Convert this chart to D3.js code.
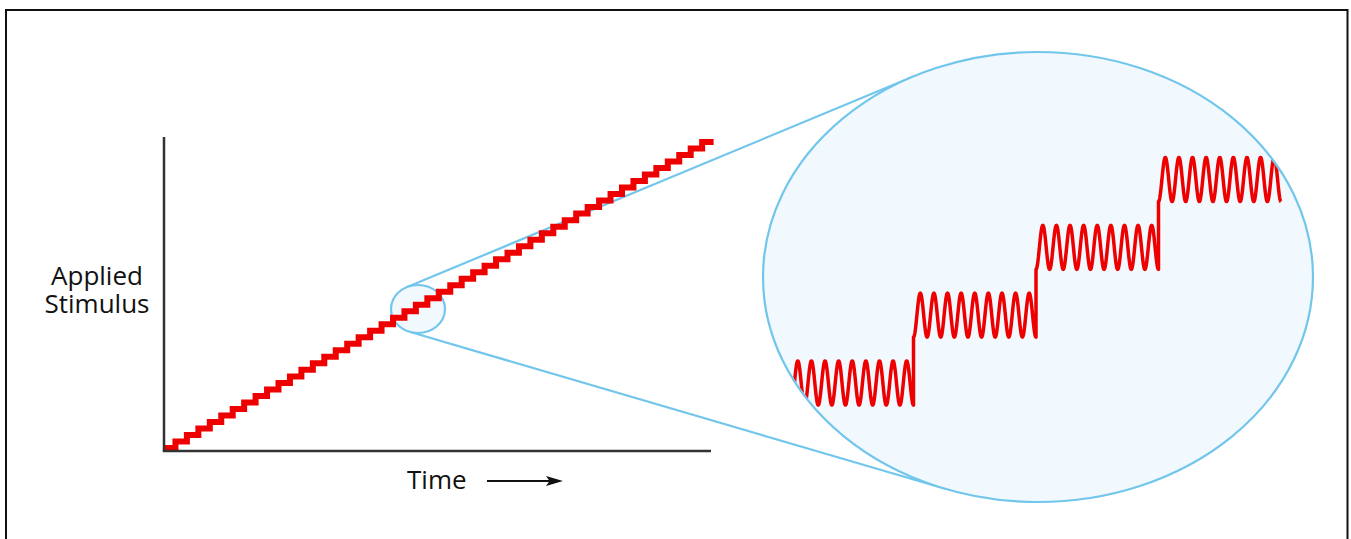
<!DOCTYPE html>
<html>
<head>
<meta charset="utf-8">
<script src="https://cdn.jsdelivr.net/npm/d3@7/dist/d3.min.js"></script>
<style>
  html, body { margin: 0; padding: 0; background: #ffffff; }
  svg { display: block; }
  text { font-family: "Open Sans", "Noto Sans", sans-serif; fill: #111; font-weight: 500; }
</style>
</head>
<body>
<svg id="chart" width="1351" height="539"></svg>
<script>
// ---------------- DATA ----------------
// Staircase: stimulus level held for each time step (index = time step)
const stimulusLevels = [1, 2, 3, 4, 5, 6, 7, 8, 9, 10, 11, 12, 13, 14, 15, 16,
  17, 18, 19, 20, 21, 22, 23, 24, 25, 26, 27, 28, 29, 30, 31, 32,
  33, 34, 35, 36, 37, 38, 39, 40, 41, 42, 43, 44, 45, 46, 47, 48];
// Zoomed view: four consecutive levels, each with an oscillation on top
const zoomLevels = [1, 2, 3, 4];
const cyclesPerLevel = 9;
const oscillationAmplitude = 0.325; // in level units
// Labels
const yLabelLines = ["Applied", "Stimulus"];
const xLabel = "Time";

// ---------------- LAYOUT ----------------
const svg = d3.select("#chart");
const red = "#ee0000";
const blue = "#72c6ec";
const paleBlue = "#f1f8fe";

// frame
svg.append("rect")
  .attr("x", 6).attr("y", 10).attr("width", 1341.5).attr("height", 545)
  .attr("fill", "none").attr("stroke", "#111").attr("stroke-width", 2);

// main plot scales
const x = d3.scaleLinear().domain([0, stimulusLevels.length]).range([164, 713.6]);
const y = d3.scaleLinear().domain([1, stimulusLevels.length]).range([448, 142]);

// zoom lens geometry
const small = { cx: 418, cy: 309, rx: 27, ry: 24 };
const big = { cx: 1038, cy: 277, rx: 275, ry: 225 };

// common external tangents between small and big ellipse
function support(e, th) {
  const nx = Math.cos(th), ny = Math.sin(th);
  const s = Math.sqrt(e.rx * e.rx * nx * nx + e.ry * e.ry * ny * ny);
  return { h: nx * e.cx + ny * e.cy + s,
           px: e.cx + e.rx * e.rx * nx / s, py: e.cy + e.ry * e.ry * ny / s };
}
function tangent(lo, hi) {
  const f = th => support(big, th).h - support(small, th).h;
  let a = lo, b = hi, fa = f(a);
  for (let k = 0; k < 80; k++) {
    const m = (a + b) / 2, fm = f(m);
    if ((fm > 0) === (fa > 0)) { a = m; fa = fm; } else { b = m; }
  }
  const th = (a + b) / 2;
  return [support(small, th), support(big, th)];
}
const upper = tangent(-Math.PI, -Math.PI / 2);
const lower = tangent(Math.PI / 2, Math.PI);

[upper, lower].forEach(t => {
  svg.append("line")
    .attr("x1", t[0].px).attr("y1", t[0].py)
    .attr("x2", t[1].px).attr("y2", t[1].py)
    .attr("stroke", blue).attr("stroke-width", 2.2);
});

// big ellipse (fill)
svg.append("ellipse")
  .attr("cx", big.cx).attr("cy", big.cy).attr("rx", big.rx).attr("ry", big.ry)
  .attr("fill", paleBlue).attr("stroke", "none");

// clip for zoomed wave
svg.append("defs").append("clipPath").attr("id", "lens")
  .append("ellipse")
  .attr("cx", big.cx).attr("cy", big.cy).attr("rx", big.rx - 1).attr("ry", big.ry - 1);

// zoomed wave scales
const zx = d3.scaleLinear().domain([0, zoomLevels.length]).range([791, 1281]);
const zy = d3.scaleLinear().domain([zoomLevels[0], zoomLevels[zoomLevels.length - 1]]).range([383, 179.5]);

const wavePts = [];
const samplesPerLevel = 360;
zoomLevels.forEach((lev, k) => {
  for (let j = 0; j <= samplesPerLevel; j++) {
    const u = j / samplesPerLevel;
    const t = k + u;
    const v = lev - oscillationAmplitude * Math.cos(2 * Math.PI * cyclesPerLevel * u);
    wavePts.push([t, v]);
  }
});
const waveLine = d3.line().x(d => zx(d[0])).y(d => zy(d[1]));
svg.append("path")
  .attr("d", waveLine(wavePts))
  .attr("clip-path", "url(#lens)")
  .attr("fill", "none").attr("stroke", red).attr("stroke-width", 3.5)
  .attr("stroke-linejoin", "round");

// big ellipse outline
svg.append("ellipse")
  .attr("cx", big.cx).attr("cy", big.cy).attr("rx", big.rx).attr("ry", big.ry)
  .attr("fill", "none").attr("stroke", blue).attr("stroke-width", 2.2);

// small lens
svg.append("ellipse")
  .attr("cx", small.cx).attr("cy", small.cy).attr("rx", small.rx).attr("ry", small.ry)
  .attr("fill", paleBlue).attr("stroke", blue).attr("stroke-width", 2.2);

// staircase
const stairPts = stimulusLevels.map((v, i) => [i, v]);
stairPts.push([stimulusLevels.length, stimulusLevels[stimulusLevels.length - 1]]);
const stairLine = d3.line().x(d => x(d[0])).y(d => y(d[1])).curve(d3.curveStepAfter);
svg.append("path")
  .attr("d", stairLine(stairPts))
  .attr("fill", "none").attr("stroke", red).attr("stroke-width", 6)
  .attr("stroke-linejoin", "miter");

// axes
svg.append("line")
  .attr("x1", 164).attr("y1", 137).attr("x2", 164).attr("y2", 451)
  .attr("stroke", "#333").attr("stroke-width", 2.5);
svg.append("line")
  .attr("x1", 162.75).attr("y1", 451).attr("x2", 711).attr("y2", 451)
  .attr("stroke", "#333").attr("stroke-width", 2.5);

// y label (two separate lines)
yLabelLines.forEach((line, i) => {
  svg.append("text")
    .attr("text-anchor", "middle")
    .attr("x", 97).attr("y", 285 + i * 28)
    .style("font-size", "26px")
    .text(line);
});

// x label + arrow
svg.append("text")
  .attr("x", 407).attr("y", 489)
  .style("font-size", "26px")
  .text(xLabel);
svg.append("line")
  .attr("x1", 487).attr("y1", 481).attr("x2", 550).attr("y2", 481)
  .attr("stroke", "#111").attr("stroke-width", 1.8);
svg.append("path")
  .attr("d", "M563,481 L546,476 L549.5,481 L546,486 Z")
  .attr("fill", "#111");
</script>
</body>
</html>
